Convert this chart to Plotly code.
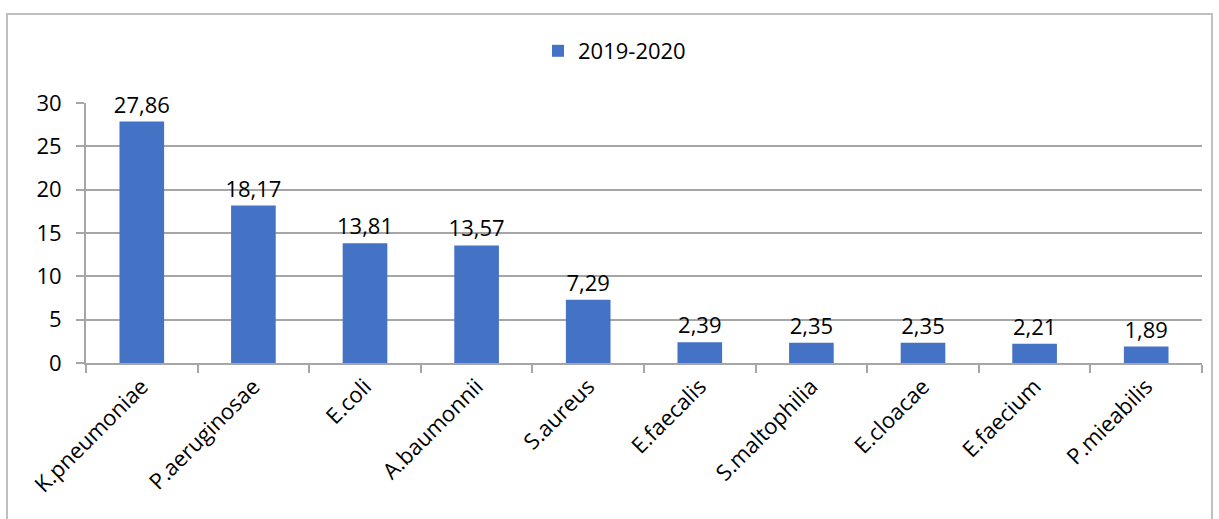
import plotly.graph_objects as go

# Isolated pathogens, share (%) for 2019-2020
categories = ["K.pneumoniae", "P.aeruginosae", "E.coli", "A.baumonnii", "S.aureus",
              "E.faecalis", "S.maltophilia", "E.cloacae", "E.faecium", "P.mieabilis"]
values = [27.86, 18.17, 13.81, 13.57, 7.29, 2.39, 2.35, 2.35, 2.21, 1.89]
series_name = "2019-2020"
y_ticks = [0, 5, 10, 15, 20, 25, 30]

FONT = "Open Sans"
FS = 22
GRID = "#a6a6a6"

fig = go.Figure()
fig.add_trace(go.Bar(
    x=categories,
    y=values,
    name=series_name,
    marker=dict(color="#4472C4", line=dict(width=0)),
    texttemplate="%{y:.2f}",
    textposition="outside",
    constraintext="none",
    textfont=dict(family=FONT, size=FS, color="#000000"),
    cliponaxis=False,
    showlegend=True,
))

fig.update_layout(
    width=1219,
    height=519,
    margin=dict(l=86, r=17, t=103, b=156),
    paper_bgcolor="white",
    plot_bgcolor="white",
    separators=", ",
    bargap=0.6,
    font=dict(family=FONT, size=FS, color="#000000"),
    showlegend=True,
    legend=dict(
        orientation="h",
        x=0.405, xanchor="left",
        y=1.2, yanchor="middle",
        font=dict(family=FONT, size=FS, color="#000000"),
        itemwidth=30,
        bgcolor="rgba(0,0,0,0)",
    ),
    xaxis=dict(
        showgrid=False,
        showline=True,
        linecolor=GRID,
        linewidth=2,
        ticks="outside",
        tickson="boundaries",
        ticklen=8,
        tickwidth=2,
        tickcolor=GRID,
        tickangle=-45,
        tickfont=dict(family=FONT, size=FS, color="#000000"),
    ),
    yaxis=dict(
        range=[0, 30],
        tickvals=y_ticks,
        showgrid=True,
        gridcolor=GRID,
        gridwidth=2,
        zeroline=False,
        showline=True,
        linecolor=GRID,
        linewidth=2,
        ticks="outside",
        ticklen=8,
        tickwidth=2,
        tickcolor=GRID,
        ticklabelstandoff=10,
        tickfont=dict(family=FONT, size=FS, color="#000000"),
    ),
    shapes=[
        dict(type="rect", xref="paper", yref="paper",
             x0=-0.0708, x1=1.009, y0=-0.62, y1=1.342,
             line=dict(color="#bfbfbf", width=2), fillcolor="rgba(0,0,0,0)",
             layer="below"),
    ],
)

fig.write_html("out.html")
